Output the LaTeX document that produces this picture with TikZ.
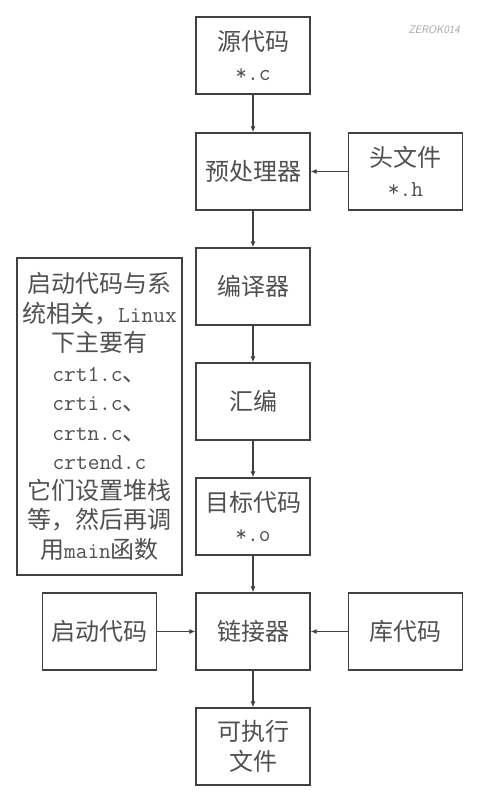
\documentclass[tikz,border=0pt]{standalone}
\usepackage{fontspec}
\newfontfamily\cjk{Noto Sans CJK SC}
\usetikzlibrary{arrows.meta}
\definecolor{ln}{HTML}{404040}
\definecolor{tx}{HTML}{505050}
\newcommand{\mono}[1]{{\ttfamily\fontsize{22.8}{29.5}\selectfont #1}}
\begin{document}
\begin{tikzpicture}[x=1pt,y=-1pt,
  box/.style={draw=ln,line width=1.3pt,rectangle,minimum width=114pt,minimum height=77pt,inner sep=0pt,
    align=center,text=tx,font=\cjk\fontsize{24}{30}\selectfont},
  conn/.style={draw=ln,line width=1.2pt,-{Latex[length=6pt,width=5pt]}}]
\useasboundingbox (0,0) rectangle (484,800);
\fill[white] (0,0) rectangle (484,800);
\node[box] (src) at (253,55.5) {源代码\\\mono{*.c}};
\node[box] (pre) at (253,171.5) {预处理器};
\node[box] (hdr) at (405.5,171.5) {头文件\\\mono{*.h}};
\node[box] (cmp) at (253,286.5) {编译器};
\node[box] (asm) at (253,401.5) {汇编};
\node[box] (obj) at (253,516.5) {目标代码\\\mono{*.o}};
\node[box] (lnk) at (253,631.5) {链接器};
\node[box] (stc) at (99.5,631.5) {启动代码};
\node[box] (lib) at (405.5,631.5) {库代码};
\node[box] (exe) at (253,746.5) {可执行\\文件};
\node[box,minimum width=165pt,minimum height=317pt,font=\cjk\fontsize{24}{29.5}\selectfont] (note) at (99.5,416.5)
  {启动代码与系\\统相关，\mono{Linux}\\下主要有\\\mono{crt1.c}、\\\mono{crti.c}、\\\mono{crtn.c}、\\\mono{crtend.c}\\它们设置堆栈\\等，然后再调\\用\mono{main}函数};
\node[text=black!35,font=\sffamily\itshape\fontsize{11}{12}\selectfont] (wm) at (434,30) {ZEROK014};
\draw[conn] (src) -- (pre);
\draw[conn] (hdr) -- (pre);
\draw[conn] (pre) -- (cmp);
\draw[conn] (cmp) -- (asm);
\draw[conn] (asm) -- (obj);
\draw[conn] (obj) -- (lnk);
\draw[conn] (stc) -- (lnk);
\draw[conn] (lib) -- (lnk);
\draw[conn] (lnk) -- (exe);
\end{tikzpicture}
\end{document}
